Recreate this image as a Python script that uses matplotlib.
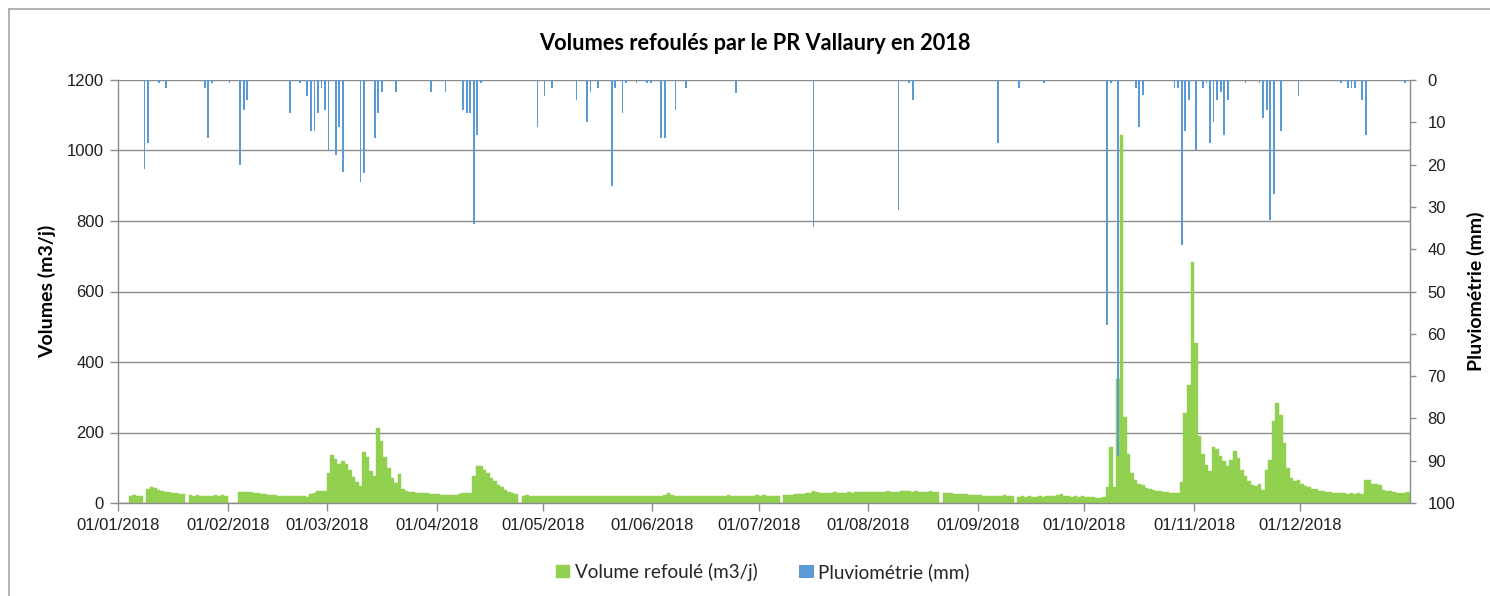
import numpy as np
import pandas as pd
import matplotlib
matplotlib.use("Agg")
import matplotlib.pyplot as plt
import matplotlib.dates as mdates
from matplotlib.lines import Line2D

# ---------------- data ----------------
title = "Volumes refoulés par le PR Vallaury en 2018"
ylabel_left = "Volumes (m3/j)"
ylabel_right = "Pluviométrie (mm)"
series_volume = "Volume refoulé (m3/j)"
series_rain = "Pluviométrie (mm)"

vol_jan = [0, 0, 0, 20, 22, 21, 19, 0, 40, 45, 43, 38, 35, 32, 30, 28, 27, 26, 25, 0,
           22, 21, 22, 20, 21, 20, 21, 22, 21, 22, 21]
vol_feb = [0, 0, 0, 31, 32, 31, 30, 29, 27, 26, 25, 24, 23, 22, 21, 21, 20, 21, 20, 20,
           19, 19, 18, 26, 28, 33, 34, 35]
vol_mar = [85, 137, 125, 110, 118, 112, 95, 75, 60, 48, 145, 130, 92, 78, 214, 175, 130,
           100, 70, 58, 82, 40, 35, 31, 30, 29, 28, 27, 27, 26, 25]
vol_apr = [25, 24, 24, 23, 24, 24, 26, 27, 27, 28, 76, 106, 104, 95, 85, 72, 62, 52, 44,
           38, 32, 28, 26, 0, 21, 22, 21, 20, 21, 20]
vol_may = [21, 20, 20, 19, 21, 20, 20, 21, 19, 20, 21, 20, 19, 20, 20, 21, 20, 19, 20, 21,
           20, 19, 20, 21, 20, 20, 19, 21, 20, 20, 21]
vol_jun = [20, 21, 20, 22, 28, 24, 21, 20, 20, 21, 20, 19, 20, 21, 20, 21, 20, 19, 20, 21,
           20, 22, 21, 20, 21, 20, 21, 20, 21, 22]
vol_jul = [21, 22, 21, 20, 21, 20, 0, 22, 23, 24, 25, 26, 26, 27, 28, 33, 30, 28, 27, 28,
           29, 30, 29, 28, 29, 30, 29, 30, 31, 30, 31]
vol_aug = [31, 32, 30, 31, 32, 33, 32, 31, 32, 33, 34, 33, 32, 33, 32, 31, 32, 33, 32, 30,
           0, 28, 27, 27, 26, 25, 26, 25, 24, 23, 22]
vol_sep = [22, 21, 20, 21, 20, 19, 20, 22, 20, 19, 0, 18, 19, 18, 19, 18, 18, 19, 18, 19,
           20, 19, 22, 25, 20, 19, 18, 19, 18, 19]
vol_oct = [18, 17, 16, 15, 15, 16, 45, 160, 45, 353, 1044, 245, 140, 85, 66, 55, 50, 43,
           40, 37, 35, 33, 31, 30, 29, 28, 27, 60, 254, 334, 685]
vol_nov = [455, 190, 140, 109, 90, 160, 152, 133, 119, 104, 123, 147, 128, 95, 76, 62, 52,
           47, 55, 38, 95, 123, 233, 285, 251, 171, 100, 71, 62, 65]
vol_dec = [55, 48, 45, 41, 39, 35, 33, 32, 31, 29, 28, 27, 27, 26, 27, 26, 27, 26, 65, 64,
           55, 54, 50, 38, 34, 33, 30, 28, 29, 27, 30]

rain_dates = ["08/01/2018", "09/01/2018", "12/01/2018", "14/01/2018", "25/01/2018",
              "26/01/2018", "27/01/2018", "01/02/2018", "04/02/2018", "05/02/2018",
              "06/02/2018", "18/02/2018", "21/02/2018", "23/02/2018", "24/02/2018",
              "25/02/2018", "26/02/2018", "27/02/2018", "28/02/2018", "01/03/2018",
              "03/03/2018", "04/03/2018", "05/03/2018", "10/03/2018", "11/03/2018",
              "14/03/2018", "15/03/2018", "16/03/2018", "20/03/2018", "30/03/2018",
              "03/04/2018", "08/04/2018", "09/04/2018", "10/04/2018", "11/04/2018",
              "12/04/2018", "13/04/2018", "29/04/2018", "01/05/2018", "03/05/2018",
              "10/05/2018", "13/05/2018", "14/05/2018", "16/05/2018", "20/05/2018",
              "21/05/2018", "23/05/2018", "24/05/2018", "27/05/2018", "30/05/2018",
              "31/05/2018", "03/06/2018", "04/06/2018", "07/06/2018", "10/06/2018",
              "24/06/2018", "16/07/2018", "09/08/2018", "12/08/2018", "13/08/2018",
              "06/09/2018", "12/09/2018", "19/09/2018", "07/10/2018", "08/10/2018",
              "10/10/2018", "15/10/2018", "16/10/2018", "17/10/2018", "26/10/2018",
              "27/10/2018", "28/10/2018", "29/10/2018", "30/10/2018", "01/11/2018",
              "03/11/2018", "04/11/2018", "05/11/2018", "06/11/2018", "07/11/2018",
              "08/11/2018", "09/11/2018", "10/11/2018", "15/11/2018", "19/11/2018",
              "20/11/2018", "21/11/2018", "22/11/2018", "23/11/2018", "25/11/2018",
              "30/11/2018", "12/12/2018", "14/12/2018", "15/12/2018", "16/12/2018",
              "18/12/2018", "19/12/2018", "30/12/2018"]
rain_mm = [21, 15, 0.8, 2, 2, 13.8, 0.8, 0.8, 20, 7,
           4.7, 7.7, 0.8, 3.7, 12, 12, 7.7, 2, 7, 16.6,
           17.8, 11, 21.7, 24, 22, 13.8, 7.7, 2.8, 2.9, 2.9,
           2.9, 7, 7.7, 7.7, 34, 12.9, 0.8, 11, 3.7, 2,
           4.7, 9.9, 2.9, 2, 25, 2, 7.7, 0.8, 0.8, 0.8,
           0.8, 13.8, 13.8, 7, 2, 3, 34.8, 30.8, 0.8, 4.7,
           14.9, 2, 0.8, 58, 0.8, 89, 2, 11, 3.6, 2,
           2, 39, 12, 4.7, 16.6, 2, 0.8, 15, 9.9, 4.7,
           2.9, 12.9, 4.7, 0.8, 0.8, 8.9, 7, 33, 26.9, 12.1,
           3.7, 0.8, 2, 2, 2, 4.7, 12.9, 0.8]

# ---------------- styles ----------------
GREEN = "#92D050"
BLUE = "#5B9BD5"
GRID = "#8C8C8C"
TXT = "#1F1F1F"
CAL = ["Lato", "DejaVu Sans"]
ARIAL = ["Liberation Sans", "DejaVu Sans"]

W, H = 1490, 596
fig = plt.figure(figsize=(W / 100, H / 100), dpi=100)
fig.patch.set_facecolor("white")
renderer = fig.canvas.get_renderer()


def fit_size(s, target_px, weight="normal", family=CAL):
    t = fig.text(0, 0, s, fontsize=10, fontweight=weight, family=family)
    w = t.get_window_extent(renderer).width
    t.remove()
    return 10 * target_px / w


left, right, top, bottom = 118, 1410, 80, 503
ax = fig.add_axes([left / W, 1 - bottom / H, (right - left) / W, (bottom - top) / H])

dates = pd.date_range("2018-01-01", "2018-12-31", freq="D")
volume = np.array(vol_jan + vol_feb + vol_mar + vol_apr + vol_may + vol_jun +
                  vol_jul + vol_aug + vol_sep + vol_oct + vol_nov + vol_dec, dtype=float)
xv = mdates.date2num(dates) + 0.5
xr = mdates.date2num(pd.to_datetime(rain_dates, format="%d/%m/%Y")) + 0.5
month_starts = pd.date_range("2018-01-01", "2018-12-01", freq="MS")

bars_v = ax.bar(xv, volume, width=1.0, color=GREEN, edgecolor=GREEN, linewidth=0.3,
                label=series_volume, zorder=2)
ax.set_xlim(mdates.date2num(pd.Timestamp("2018-01-01")),
            mdates.date2num(pd.Timestamp("2019-01-01")))
ax.set_ylim(0, 1200)
ax.set_yticks(np.arange(0, 1201, 200))
ax.set_axisbelow(True)
ax.grid(axis="y", color=GRID, linewidth=1.0, zorder=0)
ax.set_xticks(mdates.date2num(month_starts))
ax.xaxis.set_major_formatter(mdates.DateFormatter("%d/%m/%Y"))
for s in ["top", "right"]:
    ax.spines[s].set_visible(False)
for s in ["left", "bottom"]:
    ax.spines[s].set_color(GRID)
    ax.spines[s].set_linewidth(1.0)
ax.tick_params(axis="y", length=6, width=1, color=GRID, pad=4, labelsize=12, labelcolor=TXT)
ax.tick_params(axis="x", length=6, width=1, color=GRID, pad=5, labelsize=12, labelcolor=TXT)
for lab in ax.get_xticklabels() + ax.get_yticklabels():
    lab.set_family(ARIAL)

ax2 = ax.twinx()
bars_r = ax2.bar(xr, rain_mm, width=0.5, color=BLUE, linewidth=0, label=series_rain,
                 zorder=3)
ax2.set_ylim(100, 0)
ax2.set_yticks(np.arange(0, 101, 10))
for s in ["top", "left", "bottom"]:
    ax2.spines[s].set_visible(False)
ax2.spines["right"].set_color(GRID)
ax2.spines["right"].set_linewidth(1.0)
ax2.tick_params(axis="y", length=4.5, width=1, color=GRID, pad=8, labelsize=12,
                labelcolor=TXT)
for lab in ax2.get_yticklabels():
    lab.set_family(ARIAL)

# axis titles
lab_size = fit_size(ylabel_left, 133, "bold")
ax.set_ylabel(ylabel_left, fontsize=lab_size, fontweight="bold", family=CAL, color="black")
ax.yaxis.set_label_coords((47 - left) / (right - left), 0.5)
ax.yaxis.label.set_verticalalignment("center")
ax2.set_ylabel(ylabel_right, fontsize=lab_size, fontweight="bold", family=CAL,
               color="black", rotation=90)
ax2.yaxis.set_label_coords((1476 - left) / (right - left), 0.5)
ax2.yaxis.label.set_verticalalignment("center")

# title
fig.text(755 / W, 1 - 43 / H, title, ha="center", va="center", fontweight="bold",
         family=CAL, fontsize=fit_size(title, 433, "bold"), color="black")

# legend
leg_size = fit_size(series_volume, 183)
leg = fig.legend(handles=[bars_v, bars_r], labels=[series_volume, series_rain],
                 loc="center", bbox_to_anchor=(763 / W, 1 - 572 / H), ncol=2,
                 frameon=False, prop={"family": CAL, "size": leg_size},
                 handlelength=0.75, handleheight=0.75, handletextpad=0.25,
                 columnspacing=2.2, borderaxespad=0)
for t in leg.get_texts():
    t.set_color("#262626")

# outer chart border (top and left visible in the crop)
fig.add_artist(Line2D([9 / W, 1], [1 - 9 / H, 1 - 9 / H], transform=fig.transFigure,
                      color="#A6A6A6", linewidth=1.2))
fig.add_artist(Line2D([9 / W, 9 / W], [0, 1 - 9 / H], transform=fig.transFigure,
                      color="#A6A6A6", linewidth=1.2))

fig.savefig("out.png", dpi=100, facecolor="white")
